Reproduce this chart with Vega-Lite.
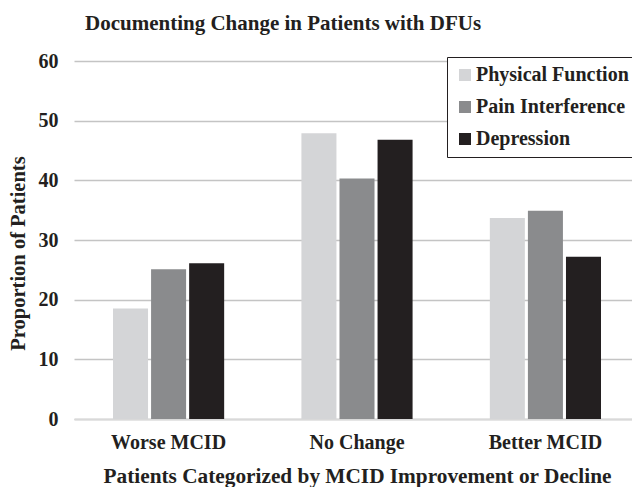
{
  "$schema": "https://vega.github.io/schema/vega-lite/v6.json",
  "autosize": "none",
  "width": 566,
  "height": 358,
  "padding": {"left": 74, "top": 61, "right": 0, "bottom": 68},
  "background": "white",
  "title": {
    "text": "Documenting Change in Patients with DFUs",
    "anchor": "start",
    "frame": "group",
    "dx": 11,
    "offset": 17,
    "font": "Liberation Serif",
    "fontSize": 21,
    "fontWeight": "bold",
    "color": "#231f20"
  },
  "data": {
    "values": [
      {"category": "Worse MCID", "measure": "Physical Function", "value": 18.5},
      {"category": "Worse MCID", "measure": "Pain Interference", "value": 25.1},
      {"category": "Worse MCID", "measure": "Depression", "value": 26.1},
      {"category": "No Change", "measure": "Physical Function", "value": 47.9},
      {"category": "No Change", "measure": "Pain Interference", "value": 40.3},
      {"category": "No Change", "measure": "Depression", "value": 46.8},
      {"category": "Better MCID", "measure": "Physical Function", "value": 33.7},
      {"category": "Better MCID", "measure": "Pain Interference", "value": 34.9},
      {"category": "Better MCID", "measure": "Depression", "value": 27.2}
    ]
  },
  "config": {
    "view": {"stroke": null},
    "font": "Liberation Serif"
  },
  "mark": {"type": "bar"},
  "encoding": {
    "x": {
      "field": "category",
      "type": "nominal",
      "sort": ["Worse MCID", "No Change", "Better MCID"],
      "scale": {"paddingInner": 0.41, "paddingOuter": 0.207},
      "axis": {
        "title": "Patients Categorized by MCID Improvement or Decline",
        "titleFont": "Liberation Serif",
        "titleFontSize": 21.3,
        "titleFontWeight": "bold",
        "titleColor": "#231f20",
        "titlePadding": 13,
        "labelFont": "Liberation Serif",
        "labelFontSize": 20,
        "labelFontWeight": "bold",
        "labelColor": "#231f20",
        "labelAngle": 0,
        "labelPadding": 13,
        "ticks": false,
        "domain": true,
        "domainColor": "#d9d9d9",
        "domainWidth": 2
      }
    },
    "xOffset": {
      "field": "measure",
      "type": "nominal",
      "sort": ["Physical Function", "Pain Interference", "Depression"],
      "scale": {"paddingInner": 0.08}
    },
    "y": {
      "field": "value",
      "type": "quantitative",
      "scale": {"domain": [0, 60], "nice": false},
      "axis": {
        "title": "Proportion of Patients",
        "titleFont": "Liberation Serif",
        "titleFontSize": 20.5,
        "titleFontWeight": "bold",
        "titleColor": "#231f20",
        "titlePadding": 10,
        "titleY": 192,
        "titleAlign": "center",
        "labelFont": "Liberation Serif",
        "labelFontSize": 20,
        "labelFontWeight": "bold",
        "labelColor": "#231f20",
        "labelPadding": 16,
        "values": [0, 10, 20, 30, 40, 50, 60],
        "ticks": false,
        "domain": false,
        "grid": true,
        "gridColor": "#c4c4c4",
        "gridWidth": 1.5
      }
    },
    "color": {
      "field": "measure",
      "type": "nominal",
      "sort": ["Physical Function", "Pain Interference", "Depression"],
      "scale": {
        "domain": ["Physical Function", "Pain Interference", "Depression"],
        "range": ["#d4d5d7", "#8a8b8d", "#231f20"]
      },
      "legend": {
        "title": null,
        "orient": "none",
        "legendX": 373,
        "legendY": -4,
        "strokeColor": "#231f20",
        "fillColor": "white",
        "padding": 8,
        "symbolType": "square",
        "symbolSize": 144,
        "symbolStrokeWidth": 0,
        "labelFont": "Liberation Serif",
        "labelFontSize": 20,
        "labelFontWeight": "bold",
        "labelColor": "#231f20",
        "labelOffset": 1,
        "labelLimit": 300,
        "rowPadding": 12
      }
    }
  }
}
